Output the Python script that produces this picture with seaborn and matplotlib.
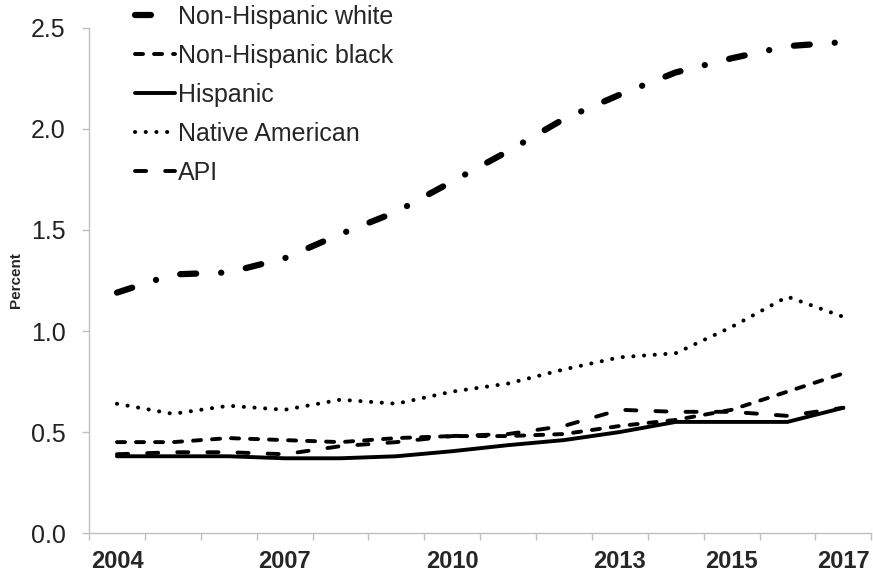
import numpy as np
import pandas as pd
import matplotlib
matplotlib.use("Agg")
import matplotlib.pyplot as plt
import seaborn as sns

# values (percent)
years = list(range(2004, 2018))
shown_years = [2004, 2007, 2010, 2013, 2015, 2017]
white = [1.19, 1.28, 1.29, 1.36, 1.48, 1.59, 1.74, 1.89, 2.05, 2.17, 2.28, 2.35, 2.41, 2.43]
black = [0.45, 0.45, 0.47, 0.46, 0.45, 0.47, 0.48, 0.48, 0.49, 0.53, 0.56, 0.61, 0.70, 0.79]
hispanic = [0.38, 0.38, 0.38, 0.37, 0.37, 0.38, 0.405, 0.435, 0.46, 0.50, 0.55, 0.55, 0.55, 0.62]
native = [0.64, 0.59, 0.63, 0.61, 0.66, 0.64, 0.70, 0.74, 0.81, 0.87, 0.89, 1.02, 1.17, 1.07]
api = [0.39, 0.40, 0.40, 0.39, 0.43, 0.45, 0.48, 0.49, 0.53, 0.61, 0.60, 0.60, 0.58, 0.62]

series = [
    ("Non-Hispanic white", white),
    ("Non-Hispanic black", black),
    ("Hispanic", hispanic),
    ("Native American", native),
    ("API", api),
]

# line look per group: (linewidth, linestyle)
styles = {
    "Non-Hispanic white": (4.5, (0, (11.5, 18, 0.1, 18))),
    "Non-Hispanic black": (2.8, (0, (5.8, 7.9))),
    "Hispanic": (2.8, "-"),
    "Native American": (2.9, (0, (0.1, 7.6))),
    "API": (2.8, (0, (8, 13.7))),
}

sns.set_theme(style="white")
plt.rcParams["font.family"] = ["Liberation Sans", "DejaVu Sans"]
plt.rcParams["lines.scale_dashes"] = False

fig = plt.figure(figsize=(8.73, 5.71), dpi=100)
ax = fig.add_axes([0.102, 0.0665, 0.896, 0.8845])

pos = np.arange(len(years))
for name, vals in series:
    lw, ls = styles[name]
    df = pd.DataFrame({"pos": pos, "value": vals})
    sns.lineplot(data=df, x="pos", y="value", ax=ax, color="black",
                 linewidth=lw, linestyle=ls, dash_capstyle="round",
                 solid_capstyle="round", label=name)

ax.set_xlim(-0.5, len(years) - 0.5)
ax.set_ylim(0, 2.5)
ax.set_yticks(np.arange(0, 2.51, 0.5))
ax.set_yticklabels([f"{v:.1f}" for v in np.arange(0, 2.51, 0.5)], fontsize=18, color="#222222")

ax.set_xticks([years.index(y) for y in shown_years])
ax.set_xticklabels([str(y) for y in shown_years], fontsize=17, fontweight="bold")
ax.set_xticks(np.arange(-0.5, len(years), 1), minor=True)
ax.tick_params(axis="x", which="major", length=0, pad=12)
ax.tick_params(axis="x", which="minor", length=5, width=1, color="#BFBFBF", direction="out", bottom=True)
ax.tick_params(axis="y", length=5, width=1, color="#BFBFBF", direction="out", left=True, pad=12)

for side in ["top", "right"]:
    ax.spines[side].set_visible(False)
for side in ["left", "bottom"]:
    ax.spines[side].set_color("#BFBFBF")
    ax.spines[side].set_linewidth(1)

ax.set_xlabel("")
ax.set_ylabel("Percent", fontsize=11, fontweight="bold")
ax.yaxis.set_label_coords(-0.085, 0.5)

ax.legend(loc="upper left", bbox_to_anchor=(0.155, 0.991), bbox_transform=fig.transFigure,
          frameon=False, fontsize=18, handlelength=1.6, handletextpad=0.12,
          labelspacing=0.6, borderpad=0, borderaxespad=0)

fig.savefig("out.png", dpi=100)
